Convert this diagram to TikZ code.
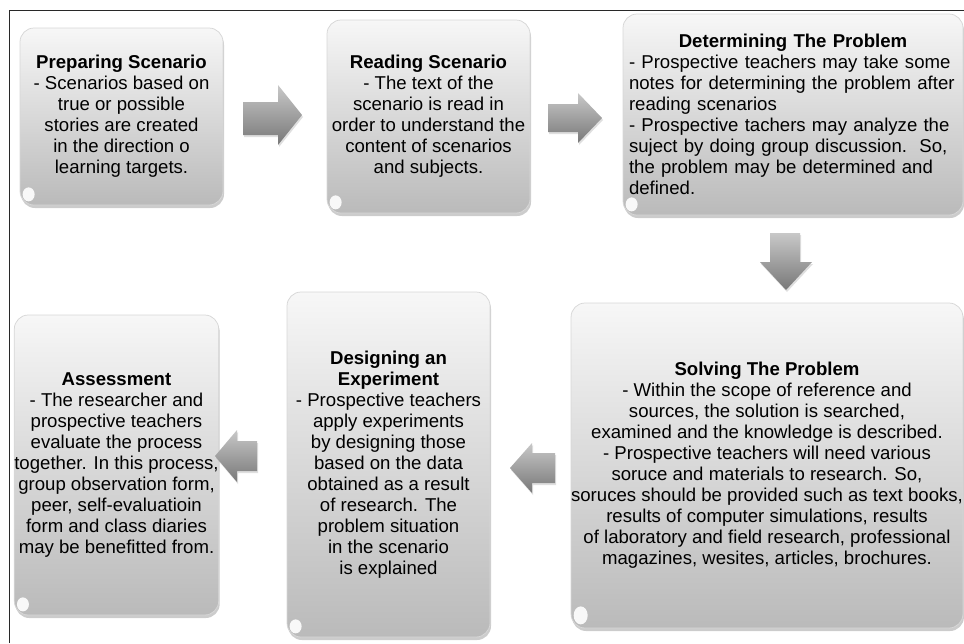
\documentclass[tikz,border=0pt]{standalone}
\usepackage{fontspec}
\setmainfont{Liberation Sans}
\usetikzlibrary{shadows}

\definecolor{boxtop}{RGB}{247,247,247}
\definecolor{boxbottom}{RGB}{186,186,186}
\definecolor{boxedge}{RGB}{215,215,215}
\definecolor{arrowlight}{RGB}{200,200,200}
\definecolor{arrowdark}{RGB}{120,120,120}
\definecolor{framegray}{RGB}{40,40,40}

\tikzset{every picture/.style={line width=0.75pt}}
\tikzset{
  stagebox/.style={rounded corners=14pt, draw=boxedge, top color=boxtop, bottom color=boxbottom,
    drop shadow={shadow xshift=1pt, shadow yshift=-3pt, opacity=0.4},
    align=center, inner sep=0pt, font=\fontsize{18.6}{21}\selectfont},
  flowarrow/.style={draw=none, top color=arrowlight, bottom color=arrowdark,
    drop shadow={shadow xshift=1pt, shadow yshift=-2pt, opacity=0.25}},
  gloss/.style={fill=white, opacity=0.9},
}

\begin{document}
\begin{tikzpicture}[x=1pt,y=1pt,yscale=-1,xscale=1]
\useasboundingbox (0,0) rectangle (964,643);
%Straight Lines: frame
\draw [color=framegray, line width=1pt] (9,643) -- (9,10) -- (964,10) ;
%Rounded Rect: Preparing Scenario
\node [stagebox, minimum width=203pt, minimum height=177pt] (prep) at (121.5,116.5) {\textbf{Preparing Scenario}\\- Scenarios based on\\true or possible\\stories are created\\in the direction o\\learning targets.};
%Rounded Rect: Reading Scenario
\node [stagebox, minimum width=203pt, minimum height=193pt] (read) at (428.5,116.5) {\textbf{Reading Scenario}\\- The text of the\\scenario is read in\\order to understand the\\content of scenarios\\and subjects.};
%Rounded Rect: Determining The Problem
\node [stagebox, minimum width=340pt, minimum height=201pt, text width=328pt, align=left] (determine) at (793,114.5) {\makebox[\linewidth]{\textbf{Determining The Problem}}\\- Prospective teachers may take some\\notes for determining the problem after\\reading scenarios\\- Prospective tachers may analyze the\\suject by doing group discussion.\ \ So,\\the problem may be determined and\\defined.};
%Rounded Rect: Solving The Problem
\node [stagebox, minimum width=390pt, minimum height=325pt] (solve) at (767,465.5) {\textbf{Solving The Problem}\\- Within the scope of reference and\\sources, the solution is searched,\\examined and the knowledge is described.\\- Prospective teachers will need various\\soruce and materials to research. So,\\soruces should be provided such as text books,\\results of computer simulations, results\\of laboratory and field research, professional\\magazines, wesites, articles, brochures.};
%Rounded Rect: Designing an Experiment
\node [stagebox, minimum width=203pt, minimum height=345pt] (design) at (388.5,464.5) {\textbf{Designing an}\\\textbf{Experiment}\\- Prospective teachers\\apply experiments\\by designing those\\based on the data\\obtained as a result\\of research. The\\problem situation\\in the scenario\\is explained};
%Rounded Rect: Assessment
\node [stagebox, minimum width=203pt, minimum height=300pt] (assess) at (116.5,465) {\textbf{Assessment}\\- The researcher and\\prospective teachers\\evaluate the process\\together. In this process,\\group observation form,\\peer, self-evaluatioin\\form and class diaries\\may be benefitted from.};
%Shape: gloss spots
\fill [gloss] ([shift={(9,-11)}]prep.south west) ellipse [x radius=6, y radius=7];
\fill [gloss] ([shift={(9,-11)}]read.south west) ellipse [x radius=6, y radius=7];
\fill [gloss] ([shift={(9,-11)}]determine.south west) ellipse [x radius=6, y radius=7];
\fill [gloss] ([shift={(10,-13)}]solve.south west) ellipse [x radius=7, y radius=9];
\fill [gloss] ([shift={(9,-11)}]design.south west) ellipse [x radius=6, y radius=7];
\fill [gloss] ([shift={(9,-11)}]assess.south west) ellipse [x radius=6, y radius=7];
%Shape: Right Arrow
\path [flowarrow] (243,102) -- (278,102) -- (278,85) -- (302,115) -- (278,145) -- (278,135) -- (243,135) -- cycle ;
%Shape: Right Arrow
\path [flowarrow] (548,104) -- (578,104) -- (578,93) -- (602,118) -- (578,143) -- (578,132) -- (548,132) -- cycle ;
%Shape: Down Arrow
\path [flowarrow] (770,233) -- (800,233) -- (800,262) -- (812,262) -- (786,290) -- (760,262) -- (770,262) -- cycle ;
%Shape: Left Arrow
\path [flowarrow] (555,453) -- (532,453) -- (532,443) -- (510,468) -- (532,493) -- (532,483) -- (555,483) -- cycle ;
%Shape: Left Arrow
\path [flowarrow] (257,441) -- (237,441) -- (237,430) -- (215,456) -- (237,482) -- (237,471) -- (257,471) -- cycle ;
\end{tikzpicture}
\end{document}
